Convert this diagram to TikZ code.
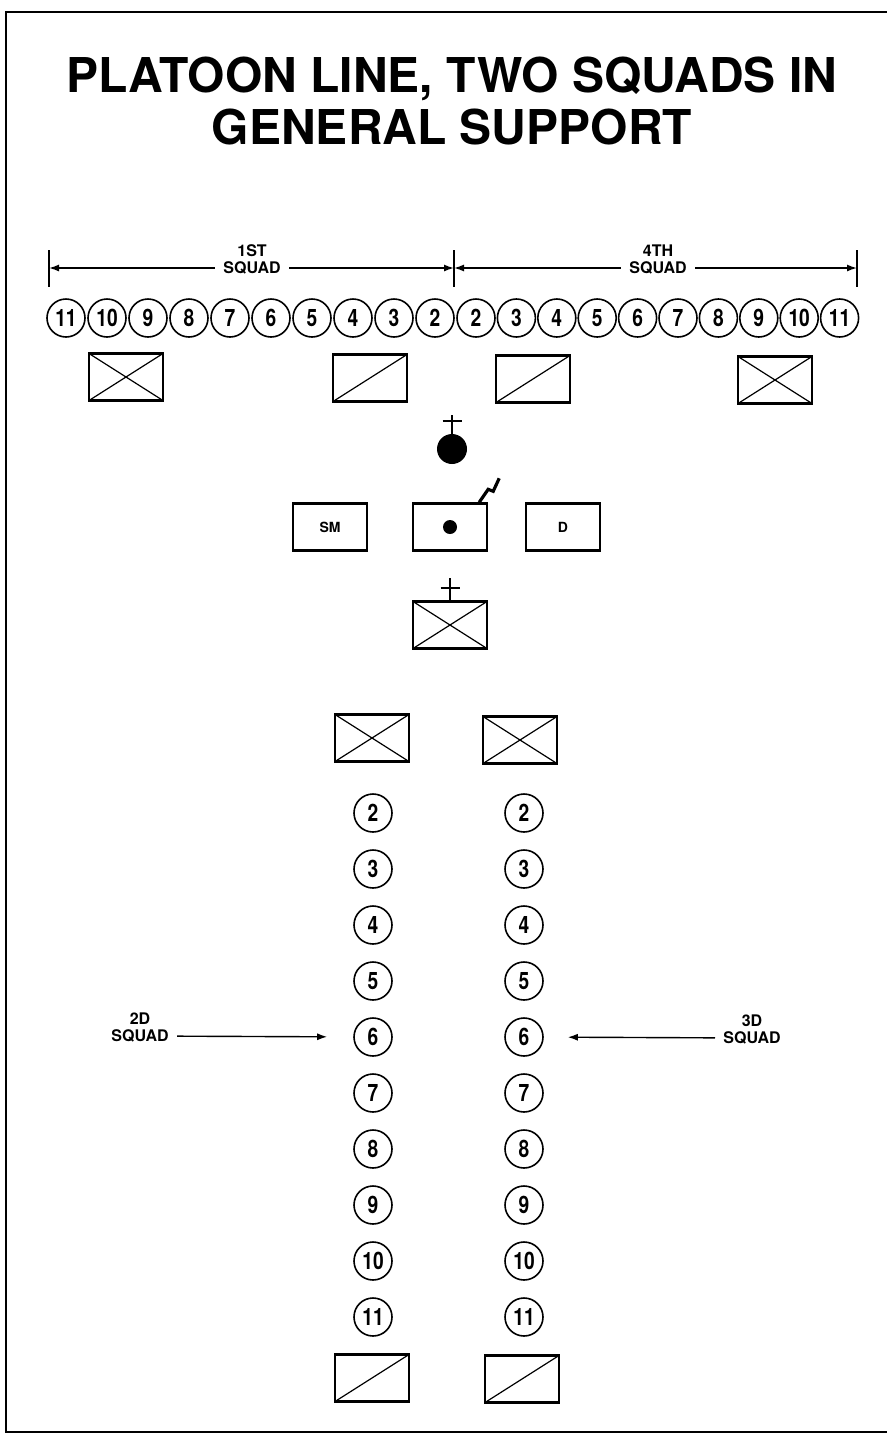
\documentclass[tikz,border=0pt]{standalone}
\usepackage{fontspec}
\setmainfont{TeX Gyre Heros}
\newfontfamily\condfont[FakeStretch=0.8]{TeX Gyre Heros}
\usetikzlibrary{arrows.meta,positioning}

\begin{document}
\begin{tikzpicture}[
  x=0.5pt, y=-0.5pt,
  >=Latex,
  font=\bfseries,
  man/.style={circle,draw,line width=0.8pt,minimum size=19pt,inner sep=0pt,
    font=\condfont\bfseries\fontsize{12}{12}\selectfont},
  unit/.style={draw,line width=1.2pt,minimum width=37pt,minimum height=23.5pt,inner sep=0pt},
  xbox/.style={unit,path picture={
    \draw[line width=0.6pt] (path picture bounding box.north west) -- (path picture bounding box.south east)
      (path picture bounding box.south west) -- (path picture bounding box.north east);}},
  slashbox/.style={unit,path picture={
    \draw[line width=0.6pt] (path picture bounding box.south west) -- (path picture bounding box.north east);}},
  tag/.style={font=\bfseries\fontsize{8}{8}\selectfont,inner ysep=1pt,inner xsep=4pt},
  dim/.style={line width=0.7pt,-{Latex[length=5pt,width=3.5pt]}},
  tick/.style={line width=0.8pt},
]
\useasboundingbox (0,0) rectangle (887,1435);

% ---------- frame and title ----------
\draw[line width=1.4pt] (887,12) -- (6,12) -- (6,1432) -- (887,1432);
\node[align=center,font=\bfseries\fontsize{24}{26}\selectfont] (title) at (452,101)
  {PLATOON LINE, TWO SQUADS IN\\GENERAL SUPPORT};

% ---------- squads in line (top) ----------
\coordinate (t1) at (49,268);
\coordinate (t2) at (454,268);
\coordinate (t3) at (857,268);
\draw[tick] (49,250) -- (49,287);
\draw[tick] (454,250) -- (454,287);
\draw[tick] (857,250) -- (857,287);

\node[tag] (sq1) at (252,268) {SQUAD};
\node[tag,above=0pt of sq1] {1ST};
\node[tag] (sq4) at (658,268) {SQUAD};
\node[tag,above=0pt of sq4] {4TH};
\draw[dim] (sq1) -- (t1);
\draw[dim] (sq1) -- (t2);
\draw[dim] (sq4) -- (t2);
\draw[dim] (sq4) -- (t3);

\foreach \n [count=\i from 0] in {11,10,...,2}
  \node[man] (a\n) at (66+41*\i,318) {\n};
\foreach \n [count=\i from 0] in {2,3,...,11}
  \node[man] (d\n) at (476+40.4*\i,318) {\n};

\node[xbox]     (x1) at (126,377) {};
\node[slashbox] (s1) at (370,378) {};
\node[slashbox] (s4) at (533,379) {};
\node[xbox]     (x4) at (775,380) {};

% ---------- headquarters ----------
\node[circle,fill,minimum size=15pt,inner sep=0pt] (pl) at (452,449) {};
\draw[line width=1pt] (pl.north) -- ++(0,-19);
\draw[line width=1pt] ([yshift=6.5pt]pl.north) ++(-9.5,0) -- ++(19,0);

\node[unit,font=\bfseries\fontsize{7}{7}\selectfont] (sm) at (330,527) {SM};
\node[unit] (cmd) at (450,527) {};
\fill (cmd.center) circle (3.5pt);
\draw[line width=1.6pt,line join=miter] ([xshift=-4.5pt]cmd.north east) -- ++(9,-13) -- ++(5,2) -- ++(6,-13);
\node[unit,font=\bfseries\fontsize{7}{7}\selectfont] (dd) at (563,527) {D};

\node[xbox] (hq) at (450,625) {};
\draw[line width=1pt] (hq.north) -- ++(0,-22);
\draw[line width=1pt] ([yshift=6.25pt]hq.north) ++(-9.5,0) -- ++(19,0);

% ---------- squads in general support (bottom) ----------
\node[xbox] (x2) at (372,738) {};
\node[xbox] (x3) at (520,740) {};
\foreach \n in {2,...,11} {
  \node[man] (b\n) at (373,813+56*\n-112) {\n};
  \node[man] (c\n) at (524,813+56*\n-112) {\n};
}
\node[slashbox] (s2) at (372,1378) {};
\node[slashbox] (s3) at (522,1379) {};

\node[tag,inner sep=1pt] (sq2) at (140,1036) {SQUAD};
\node[tag,inner sep=1pt,above=0pt of sq2] {2D};
\node[tag,inner sep=1pt] (sq3) at (752,1038) {SQUAD};
\node[tag,inner sep=1pt,above=0pt of sq3] {3D};
\draw[dim,shorten <=3pt,shorten >=13pt] (sq2) -- (b6);
\draw[dim,shorten <=3pt,shorten >=12pt] (sq3) -- (c6);

\end{tikzpicture}
\end{document}
